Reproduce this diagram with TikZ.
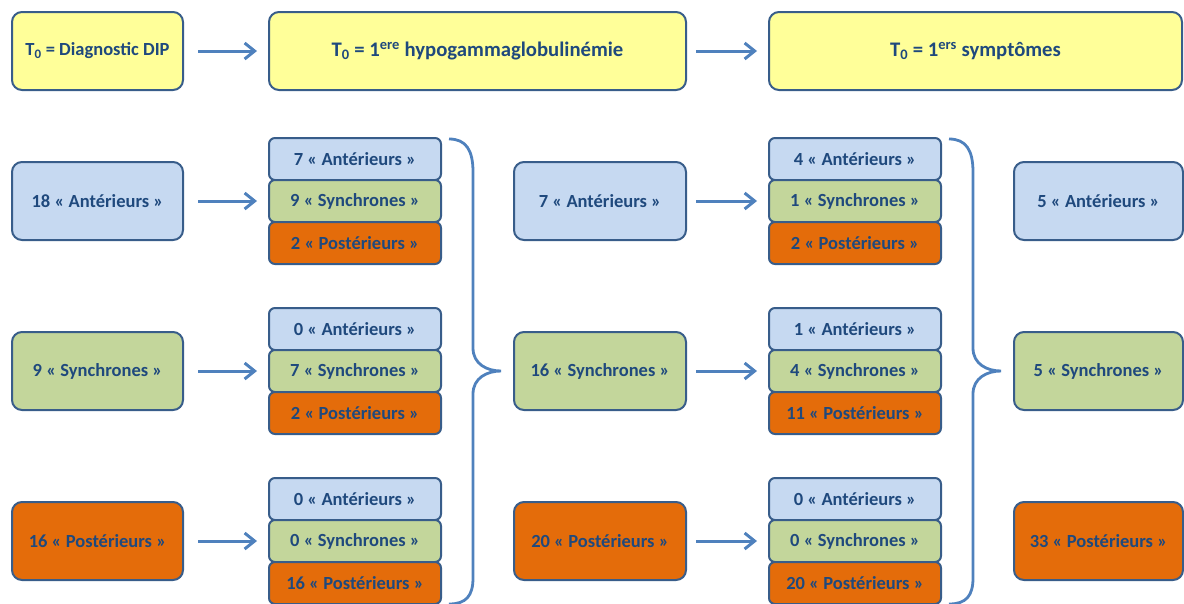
\documentclass[tikz,border=0pt]{standalone}
\usepackage{fontspec}
\setmainfont{Carlito}
\usepackage{tikz}
\usetikzlibrary{arrows.meta}
\definecolor{tlborder}{RGB}{56,93,138}
\definecolor{tltext}{RGB}{31,73,125}
\definecolor{tlarrow}{RGB}{79,129,189}
\definecolor{tlyellow}{RGB}{255,255,153}
\definecolor{tlblue}{RGB}{198,217,241}
\definecolor{tlgreen}{RGB}{195,214,155}
\definecolor{tlorange}{RGB}{228,108,10}
\tikzstyle{arrow} = [line width=3pt,-{Straight Barb[length=10pt,width=16pt]},color=tlarrow,shorten <=14pt,shorten >=11pt]
\tikzstyle{brace} = [line width=2.8pt,color=tlarrow]

\begin{document}
\begin{tikzpicture}[
    x=1pt, y=-1pt,
    every node/.style={font=\fontsize{18.5}{22}\selectfont\bfseries, text=tltext},
    group/.style={rectangle, rounded corners=10pt, draw=tlborder, line width=2pt, minimum width=171pt, minimum height=78pt, align=center},
    cell/.style={rectangle, rounded corners=6pt, draw=tlborder, line width=2pt, minimum width=172pt, minimum height=42pt, align=center},
    period/.style={fill=tlyellow, font=\fontsize{20.7}{24}\selectfont\bfseries},
    ant/.style={fill=tlblue},
    syn/.style={fill=tlgreen},
    post/.style={fill=tlorange}
]
\useasboundingbox (0,0) rectangle (1184,603);

% Reference dates (top)
\node[group, period, font=\fontsize{18.5}{22}\selectfont\bfseries] (diag) at (97.5,51) {T\textsubscript{0} = Diagnostic DIP};
\node[group, period, minimum width=417pt] (hypo) at (477.5,51) {T\textsubscript{0} = 1\textsuperscript{ere} hypogammaglobulinémie};
\node[group, period, minimum width=413pt] (sympt) at (975.5,51) {T\textsubscript{0} = 1\textsuperscript{ers} symptômes};

% Diagnostic DIP (left)
\node[group, ant] (ant1) at (97.5,201) {18 « Antérieurs »};
\node[group, syn] (syn1) at (97.5,371) {9 « Synchrones »};
\node[group, post] (post1) at (97.5,541) {16 « Postérieurs »};

% Split by hypogammaglobulinemia
\node[cell, ant] (ant1a) at (355,159) {7 « Antérieurs »};
\node[cell, syn] (ant1s) at (355,201) {9 « Synchrones »};
\node[cell, post] (ant1p) at (355,243) {2 « Postérieurs »};
\node[cell, ant] (syn1a) at (355,329) {0 « Antérieurs »};
\node[cell, syn] (syn1s) at (355,371) {7 « Synchrones »};
\node[cell, post] (syn1p) at (355,413) {2 « Postérieurs »};
\node[cell, ant] (post1a) at (355,499) {0 « Antérieurs »};
\node[cell, syn] (post1s) at (355,541) {0 « Synchrones »};
\node[cell, post] (post1p) at (355,583) {16 « Postérieurs »};

% 1ere hypogammaglobulinemie (middle)
\node[group, ant, minimum width=172pt] (ant2) at (600,201) {7 « Antérieurs »};
\node[group, syn, minimum width=172pt] (syn2) at (600,371) {16 « Synchrones »};
\node[group, post, minimum width=172pt] (post2) at (600,541) {20 « Postérieurs »};

% Split by symptoms
\node[cell, ant] (ant2a) at (855,159) {4 « Antérieurs »};
\node[cell, syn] (ant2s) at (855,201) {1 « Synchrones »};
\node[cell, post] (ant2p) at (855,243) {2 « Postérieurs »};
\node[cell, ant] (syn2a) at (855,329) {1 « Antérieurs »};
\node[cell, syn] (syn2s) at (855,371) {4 « Synchrones »};
\node[cell, post] (syn2p) at (855,413) {11 « Postérieurs »};
\node[cell, ant] (post2a) at (855,499) {0 « Antérieurs »};
\node[cell, syn] (post2s) at (855,541) {0 « Synchrones »};
\node[cell, post] (post2p) at (855,583) {20 « Postérieurs »};

% 1ers symptomes (right)
\node[group, ant, minimum width=169pt] (ant3) at (1098.5,201) {5 « Antérieurs »};
\node[group, syn, minimum width=169pt] (syn3) at (1098.5,371) {5 « Synchrones »};
\node[group, post, minimum width=169pt] (post3) at (1098.5,541) {33 « Postérieurs »};

% Arrows
\draw[arrow] (diag) -- (hypo);
\draw[arrow, shorten <=9pt] (hypo) -- (sympt);
\draw[arrow] (ant1) -- (ant1s);
\draw[arrow] (syn1) -- (syn1s);
\draw[arrow] (post1) -- (post1s);
\draw[arrow, shorten <=9pt] (ant2) -- (ant2s);
\draw[arrow, shorten <=9pt] (syn2) -- (syn2s);
\draw[arrow, shorten <=9pt] (post2) -- (post2s);

% Braces
\foreach \bx in {449,949}
  \draw[brace] (\bx,139) .. controls (\bx+17,139) and (\bx+24,150) .. (\bx+24,172)
    -- (\bx+24,348) .. controls (\bx+24,364) and (\bx+38,371) .. (\bx+52,371)
    .. controls (\bx+38,371) and (\bx+24,378) .. (\bx+24,394)
    -- (\bx+24,578) .. controls (\bx+24,596) and (\bx+17,604) .. (\bx,604);

\end{tikzpicture}
\end{document}
